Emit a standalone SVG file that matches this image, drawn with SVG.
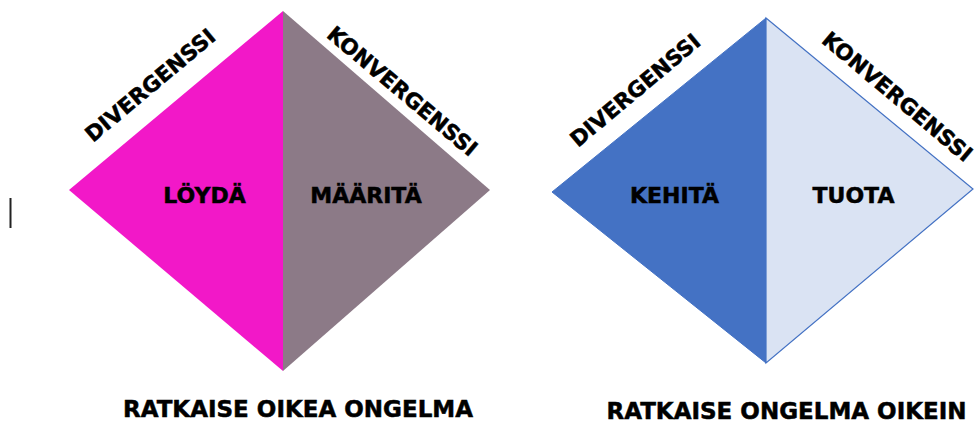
<svg xmlns="http://www.w3.org/2000/svg" width="978" height="425" viewBox="0 0 978 425">
<style>
text{font-family:"DejaVu Sans",Verdana,sans-serif;font-weight:bold;fill:#000;stroke:#000;stroke-width:0.5;text-anchor:middle}
.diag{font-size:21.5px}
.mid{font-size:22px}
.bot{font-size:23px}
</style>
<rect width="978" height="425" fill="#fff"/>
<g id="diamond-left">
<polygon points="283,11 69,190 283,371" fill="#F218C8"/>
<polygon points="283,11 490,190 283,371" fill="#8C7A87"/>
<text class="mid" x="204.5" y="203">LÖYDÄ</text>
<text class="mid" x="366" y="203">MÄÄRITÄ</text>
<text class="diag" transform="translate(155,91) rotate(-40)">DIVERGENSSI</text>
<text class="diag" transform="translate(397.5,97) rotate(40)">KONVERGENSSI</text>
</g>
<g id="diamond-right">
<polygon points="766,18 552,192 766,363" fill="#4472C4" stroke="#4472C4" stroke-width="1"/>
<polygon points="766,18 973,189 766,363" fill="#DAE3F3" stroke="#4472C4" stroke-width="1.2"/>
<text class="mid" x="674.5" y="203">KEHITÄ</text>
<text class="mid" x="853.5" y="203">TUOTA</text>
<text class="diag" transform="translate(640,96) rotate(-40)">DIVERGENSSI</text>
<text class="diag" transform="translate(892.5,102.5) rotate(40)">KONVERGENSSI</text>
</g>
<g id="caption-left"><text class="bot" x="298" y="417">RATKAISE OIKEA ONGELMA</text></g>
<g id="caption-right"><text class="bot" x="786.5" y="419">RATKAISE ONGELMA OIKEIN</text></g>
<g id="cursor"><rect x="9.5" y="198" width="2" height="30" fill="#222"/></g>
<g id="connectors"/>
</svg>
